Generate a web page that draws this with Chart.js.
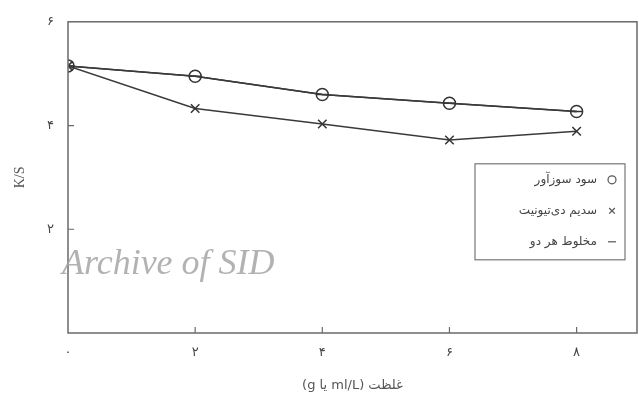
<!DOCTYPE html>
<html>
<head>
    <meta charset="utf-8"/>
    <title>K/S</title>
    <script src="https://cdn.jsdelivr.net/npm/chart.js"></script>
    <style>
        html, body { margin: 0; padding: 0; background: #fff; overflow: hidden; }
        #chart-container { width: 639px; height: 397px; }
    </style>
</head>
<body>
    <div id="chart-container">
        <canvas id="ksChart" width="639" height="397"></canvas>
    </div>

    <script>
        // غلظت
        const concentraciones = [0, 2, 4, 6, 8];
        const xTicks = [0, 2, 4, 6, 8];
        const yTicks = [0, 2, 4, 6];
        const digitos = ['۰', '۱', '۲', '۳', '۴', '۵', '۶', '۷', '۸', '۹'];

        // K/S
        const sodaValores = [5.15, 4.95, 4.6, 4.43, 4.27];
        const ditionitoValores = [5.15, 4.33, 4.03, 3.72, 3.89];
        const mezclaValores = [5.15, 4.95, 4.6, 4.43, 4.27];

        const etiquetas = ['سود سوزآور', 'سدیم دی‌تیونیت', 'مخلوط هر دو'];
        const tituloX = '(g یا ml/L) غلظت';
        const tituloY = 'K/S';
        const marcaAgua = 'Archive of SID';

        const persa = n => String(n).split('').map(c => digitos[+c] ?? c).join('');
        const puntos = vals => vals.map((v, i) => ({ x: concentraciones[i], y: v }));

        // Marco, ticks internos, leyenda y marca de agua
        const extras = {
            id: 'extras',
            afterDraw(chart) {
                const ctx = chart.ctx;
                const a = chart.chartArea;
                const sx = chart.scales.x, sy = chart.scales.y;
                ctx.save();
                ctx.strokeStyle = '#6a6a6a';
                ctx.lineWidth = 1.5;
                ctx.strokeRect(a.left, a.top, a.right - a.left, a.bottom - a.top);

                ctx.lineWidth = 1.2;
                ctx.beginPath();
                xTicks.slice(1).forEach(v => {
                    const px = sx.getPixelForValue(v);
                    ctx.moveTo(px, a.bottom);
                    ctx.lineTo(px, a.bottom - 6);
                });
                yTicks.slice(1, -1).forEach(v => {
                    const py = sy.getPixelForValue(v);
                    ctx.moveTo(a.left, py);
                    ctx.lineTo(a.left + 6, py);
                });
                ctx.stroke();

                // leyenda
                const lx = a.right - 162, ly = a.top + 142, lw = 150, lh = 96;
                ctx.strokeStyle = '#777';
                ctx.lineWidth = 1.2;
                ctx.strokeRect(lx, ly, lw, lh);
                ctx.font = '12px "DejaVu Sans", sans-serif';
                ctx.textAlign = 'right';
                ctx.textBaseline = 'middle';
                chart.data.datasets.forEach((ds, i) => {
                    const y = ly + 16 + i * 31;
                    ctx.fillStyle = '#fff';
                    ctx.strokeStyle = '#555';
                    Chart.helpers.drawPoint(ctx, {
                        pointStyle: ds.pointStyle, radius: 4, borderWidth: 1
                    }, lx + lw - 13, y);
                    ctx.fillStyle = '#444';
                    ctx.fillText(ds.label, lx + lw - 28, y);
                });

                // marca de agua
                ctx.font = 'italic 36px "Liberation Serif", serif';
                ctx.fillStyle = 'rgba(165,165,165,0.85)';
                ctx.textAlign = 'left';
                ctx.textBaseline = 'alphabetic';
                ctx.fillText(marcaAgua, a.left - 6, a.top + 252);
                ctx.restore();
            }
        };

        const serie = (label, data, estilo, radio) => ({
            label: label,
            data: puntos(data),
            borderColor: '#3a3a3a',
            backgroundColor: 'rgba(0,0,0,0)',
            borderWidth: 1.5,
            pointStyle: estilo,
            pointRadius: radio,
            pointBorderColor: '#333',
            pointBorderWidth: 1.5,
            tension: 0,
            fill: false
        });

        new Chart(document.getElementById('ksChart'), {
            type: 'line',
            data: {
                datasets: [
                    serie(etiquetas[0], sodaValores, 'circle', 6),
                    serie(etiquetas[1], ditionitoValores, 'crossRot', 6),
                    serie(etiquetas[2], mezclaValores, 'line', 6)
                ]
            },
            options: {
                responsive: false,
                animation: false,
                layout: { autoPadding: false, padding: { top: 18, right: 2, left: 0, bottom: 0 } },
                plugins: { legend: { display: false }, tooltip: { enabled: false } },
                scales: {
                    x: {
                        type: 'linear',
                        min: 0,
                        max: 8.95,
                        afterBuildTicks: s => { s.ticks = xTicks.map(v => ({ value: v })); },
                        afterFit: s => { s.height = 64; },
                        grid: { display: false, drawTicks: false },
                        border: { display: false },
                        ticks: {
                            padding: 12,
                            color: '#444',
                            font: { family: '"DejaVu Sans"', size: 13 },
                            callback: v => persa(v)
                        },
                        title: {
                            display: true,
                            text: tituloX,
                            color: '#555',
                            padding: { top: 4 },
                            font: { family: '"DejaVu Sans"', size: 13 }
                        }
                    },
                    y: {
                        min: 0,
                        max: 6,
                        afterBuildTicks: s => { s.ticks = yTicks.map(v => ({ value: v })); },
                        afterFit: s => { s.width = 68; },
                        grid: { display: false, drawTicks: false },
                        border: { display: false },
                        ticks: {
                            padding: 14,
                            color: '#444',
                            font: { family: '"DejaVu Sans"', size: 13 },
                            callback: v => v === 0 ? '' : persa(v)
                        },
                        title: {
                            display: true,
                            text: tituloY,
                            color: '#555',
                            padding: { top: 12, bottom: 4 },
                            font: { family: '"Liberation Serif"', size: 14 }
                        }
                    }
                }
            },
            plugins: [extras]
        });
    </script>
</body>
</html>
